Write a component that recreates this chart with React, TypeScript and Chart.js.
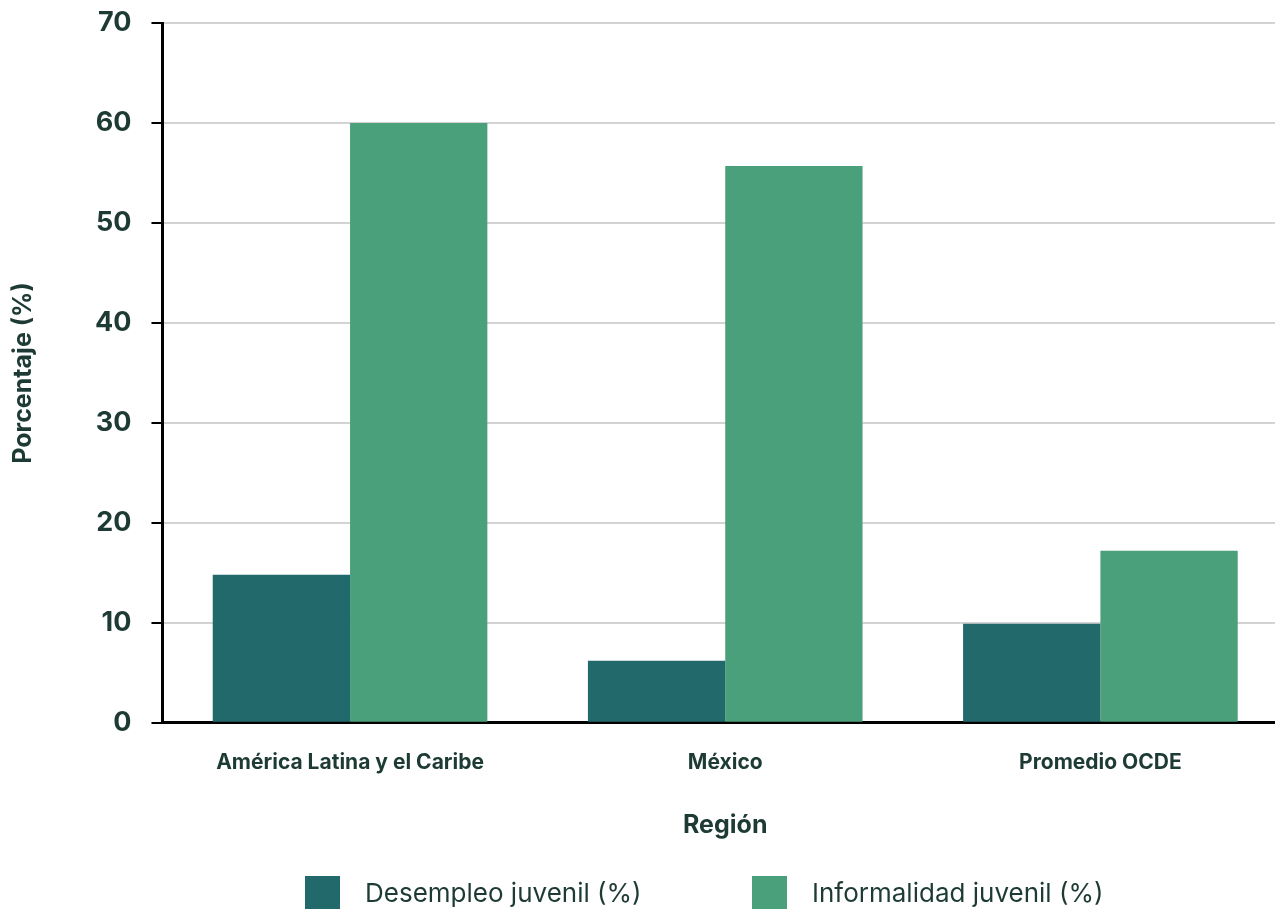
import React, { useEffect, useRef } from "react";
import { Chart, registerables } from "chart.js";

Chart.register(...registerables);

const categories = ["América Latina y el Caribe", "México", "Promedio OCDE"];
const desempleo = [14.8, 6.2, 9.9];
const informalidad = [60, 55.7, 17.2];
const seriesLabels = ["Desempleo juvenil (%)", "Informalidad juvenil (%)"];
const seriesColors = ["#22696b", "#4aa07a"];

const TEXT = "#1d3b34";
const FONT = "Inter, 'Open Sans', sans-serif";

const legendPlugin = {
  id: "customLegend",
  afterDraw(chart: any) {
    const ctx = chart.ctx;
    const ds = chart.data.datasets;
    const starts = [305, 752];
    const y = 894;
    ctx.save();
    ctx.font = `400 26px ${FONT}`;
    ctx.textBaseline = "middle";
    ds.forEach((d: any, i: number) => {
      ctx.fillStyle = d.backgroundColor;
      ctx.fillRect(starts[i], y - 18, 35, 36);
      ctx.fillStyle = TEXT;
      ctx.fillText(d.label, starts[i] + 60, y);
    });
    ctx.restore();
  },
};

export default function App() {
  const ref = useRef<HTMLCanvasElement>(null);
  useEffect(() => {
    document.body.style.margin = "0";
    document.body.style.overflow = "hidden";
    const chart = new Chart(ref.current!, {
      type: "bar",
      data: {
        labels: categories,
        datasets: [
          { label: seriesLabels[0], data: desempleo, backgroundColor: seriesColors[0], barPercentage: 1, categoryPercentage: 0.732 },
          { label: seriesLabels[1], data: informalidad, backgroundColor: seriesColors[1], barPercentage: 1, categoryPercentage: 0.732 },
        ],
      },
      plugins: [legendPlugin],
      options: {
        animation: false,
        responsive: false,
        maintainAspectRatio: false,
        layout: { padding: { top: 0, bottom: 69, left: 8, right: 0 } },
        plugins: { legend: { display: false }, tooltip: { enabled: false } },
        scales: {
          x: {
            grid: { display: false },
            border: { display: true, color: "#000", width: 3 },
            ticks: { color: TEXT, font: { family: FONT, size: 21, weight: "bold" }, padding: 19 },
            title: { display: true, text: "Región", color: TEXT, font: { family: FONT, size: 25, weight: "bold" }, padding: { top: 16, bottom: 0 } },
          },
          y: {
            min: 0,
            max: 70,
            afterFit: (scale: any) => {
              scale.paddingTop = 23;
            },
            ticks: { stepSize: 10, color: TEXT, font: { family: FONT, size: 27, weight: "bold" }, padding: 20 },
            grid: { color: "#d3d3d3", lineWidth: 2, tickColor: "#000", tickLength: 11, drawTicks: true },
            border: { display: true, color: "#000", width: 3 },
            title: { display: true, text: "Porcentaje (%)", color: TEXT, font: { family: FONT, size: 25, weight: "bold" }, padding: { top: 0, bottom: 37 } },
          },
        },
      },
    });
    return () => chart.destroy();
  }, []);
  return (
    <div style={{ width: 1275, height: 909, overflow: "hidden", position: "relative" }}>
      <canvas ref={ref} width={1288} height={909} style={{ display: "block" }} />
    </div>
  );
}
